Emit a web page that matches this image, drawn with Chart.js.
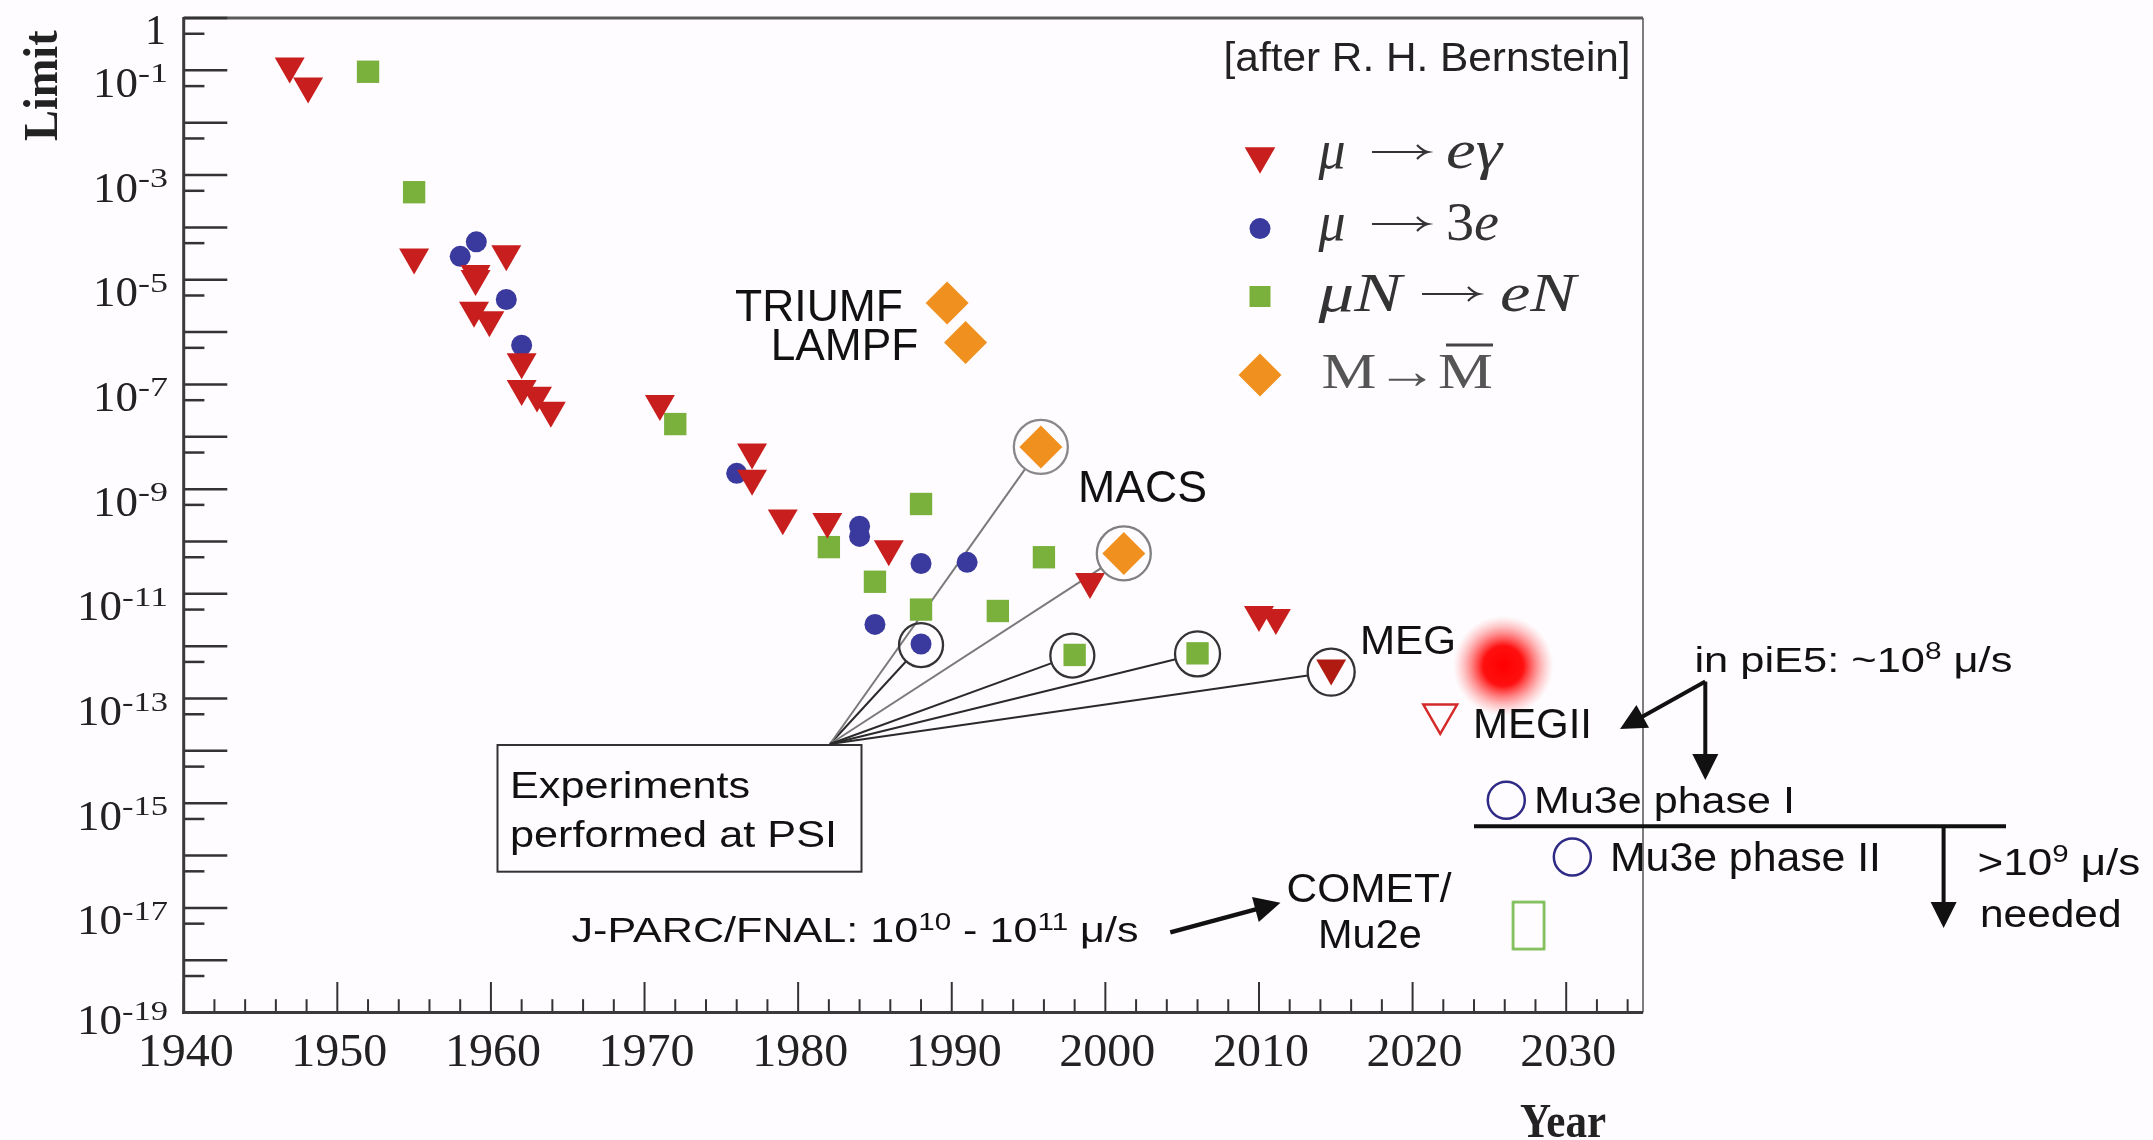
<!DOCTYPE html>
<html>
<head>
<meta charset="utf-8">
<script src="https://cdn.jsdelivr.net/npm/chart.js"></script>
<style>
html,body{margin:0;padding:0;background:#fefcfe;}
canvas{display:block;}
</style>
</head>
<body>
<canvas id="limitChart" width="2153" height="1140"></canvas>
<script>
// mu -> e gamma (red triangles)
const muEgYears = [1946.9, 1948.1, 1955.0, 1959.0, 1959.0, 1958.9, 1959.9, 1961.0, 1962.0, 1962.0, 1963.0, 1963.9, 1971.0, 1977.0, 1977.0, 1979.0, 1981.9, 1985.9, 1999.0, 2010.0, 2011.1];
const muEgLimits = [0.12, 0.05, 2.7e-5, 1.3e-5, 1.05e-5, 2.6e-6, 1.7e-6, 3.1e-5, 2.7e-7, 8.3e-8, 6.2e-8, 3.2e-8, 4.3e-8, 5.1e-9, 1.6e-9, 2.8e-10, 2.4e-10, 7.2e-11, 1.7e-11, 4.0e-12, 3.5e-12];
const megYears = [2014.7];
const megLimits = [3.8e-13];

// mu -> 3e (blue circles)
const mu3eYears = [1958.0, 1959.05, 1961.0, 1962.0, 1976.0, 1984.0, 1984.0, 1985.0, 1988.0, 1988.0, 1991.0];
const mu3eLimits = [2.8e-5, 5.3e-5, 4.2e-6, 5.6e-7, 2.0e-9, 1.95e-10, 1.25e-10, 2.6e-12, 3.8e-11, 1.1e-12, 4.0e-11];

// mu N -> e N (green squares)
const muNYears = [1952.0, 1955.0, 1972.0, 1982.0, 1985.0, 1988.0, 1988.0, 1993.0, 1996.0, 1998.0, 2006.0];
const muNLimits = [0.094, 4.7e-4, 1.75e-8, 7.8e-11, 1.7e-11, 5.2e-10, 5.0e-12, 4.7e-12, 5.0e-11, 6.8e-13, 7.3e-13];

// muonium -> antimuonium (orange diamonds)
const mmYears = [1989.7, 1990.9, 1995.8, 2001.2];
const mmLimits = [3.6e-6, 6.3e-7, 6.4e-9, 5.9e-11];

// experiments performed at PSI (circled)
const psiYears = [1988.0, 1995.8, 2001.2, 1997.85, 2006.0, 2014.7];
const psiLimits = [1.05e-12, 6.4e-9, 5.9e-11, 6.6e-13, 7.1e-13, 3.2e-13];

// future projects
const megIIYears = [2021.8];
const megIILimits = [5.0e-14];
const megIIHopeYears = [2025.9];
const megIIHopeLimits = [4.2e-13];
const mu3eFutureYears = [2026.1, 2030.4];
const mu3eFutureLimits = [1.14e-15, 9.4e-17];
const cometYears = [2027.55];
const cometLimits = [4.6e-18];

// axis labels
const xLabelYears = [1940, 1950, 1960, 1970, 1980, 1990, 2000, 2010, 2020, 2030];
const yLabelExponents = [-1, -3, -5, -7, -9, -11, -13, -15, -17, -19];

const SERIF = '"Liberation Serif", "DejaVu Serif", serif';
const SANS = '"Liberation Sans", Arial, sans-serif';
const NARROW = '"Liberation Sans Narrow", "Liberation Sans", sans-serif';

function pts(xs, ys) {
  return xs.map((x, i) => ({x: x, y: ys[i]}));
}

// parts: [text, size, dy, fontStyle]
function drawRun(ctx, x, y, parts, opt) {
  ctx.save();
  ctx.fillStyle = opt.color || '#111';
  ctx.textBaseline = 'alphabetic';
  ctx.textAlign = 'left';
  const fonts = parts.map(p => (p[3] || opt.style || 'normal') + ' ' + (opt.weight || 'normal') + ' ' + p[1] + 'px ' + opt.family);
  const widths = parts.map((p, i) => { ctx.font = fonts[i]; return ctx.measureText(p[0]).width; });
  const total = widths.reduce((a, b) => a + b, 0);
  const sx = opt.w ? opt.w / total : 1;
  let start = x;
  if (opt.align === 'right') start = x - total * sx;
  else if (opt.align === 'center') start = x - total * sx / 2;
  ctx.translate(start, y);
  ctx.scale(sx, 1);
  let cx = 0;
  parts.forEach((p, i) => {
    ctx.font = fonts[i];
    ctx.fillText(p[0], cx, p[2] || 0);
    cx += widths[i];
  });
  ctx.restore();
  return start + total * sx;
}

function arrow(ctx, x1, y1, x2, y2, lw, head) {
  const a = Math.atan2(y2 - y1, x2 - x1);
  const c = Math.cos(a), s = Math.sin(a);
  ctx.save();
  ctx.strokeStyle = '#111';
  ctx.fillStyle = '#111';
  ctx.lineWidth = lw;
  ctx.beginPath();
  ctx.moveTo(x1, y1);
  ctx.lineTo(x2 - c * head * 0.8, y2 - s * head * 0.8);
  ctx.stroke();
  ctx.beginPath();
  ctx.moveTo(x2, y2);
  ctx.lineTo(x2 - head * c + head * 0.5 * s, y2 - head * s - head * 0.5 * c);
  ctx.lineTo(x2 - head * c - head * 0.5 * s, y2 - head * s + head * 0.5 * c);
  ctx.closePath();
  ctx.fill();
  ctx.restore();
}

function line(ctx, x1, y1, x2, y2, lw, color) {
  ctx.save();
  ctx.strokeStyle = color;
  ctx.lineWidth = lw;
  ctx.beginPath();
  ctx.moveTo(x1, y1);
  ctx.lineTo(x2, y2);
  ctx.stroke();
  ctx.restore();
}

// thin math arrow for the legend
function mathArrow(ctx, x1, x2, y, color) {
  ctx.save();
  ctx.strokeStyle = color;
  ctx.lineWidth = 2.2;
  ctx.beginPath();
  ctx.moveTo(x1, y);
  ctx.lineTo(x2, y);
  ctx.moveTo(x2 - 10, y - 7);
  ctx.quadraticCurveTo(x2 - 4, y - 1, x2 + 1, y);
  ctx.quadraticCurveTo(x2 - 4, y + 1, x2 - 10, y + 7);
  ctx.stroke();
  ctx.restore();
}

// glow image for the MEG II goal
const glow = document.createElement('canvas');
glow.width = 100; glow.height = 100;
(function () {
  const g = glow.getContext('2d');
  const rg = g.createRadialGradient(50, 50, 0, 50, 50, 50);
  rg.addColorStop(0, 'rgba(255,0,0,1)');
  rg.addColorStop(0.4, 'rgba(255,8,8,0.97)');
  rg.addColorStop(0.7, 'rgba(255,50,50,0.45)');
  rg.addColorStop(1, 'rgba(255,120,120,0)');
  g.fillStyle = rg;
  g.fillRect(0, 0, 100, 100);
})();

// open rectangle for COMET / Mu2e
const openRect = document.createElement('canvas');
openRect.width = 36; openRect.height = 52;
(function () {
  const g = openRect.getContext('2d');
  g.strokeStyle = '#74b84a';
  g.lineWidth = 2.5;
  g.strokeRect(2.5, 2.5, 31, 47);
})();

const ringColors = ['#333333', '#888888', '#808080', '#333333', '#333333', '#333333'];
const ringRadius = [22, 27, 27, 22, 22.5, 23.5];
const APEX = {x: 830, y: 744};

const frame = {
  id: 'frame',
  beforeDatasetsDraw(chart) {
    const ctx = chart.ctx;
    const xs = chart.scales.x, ys = chart.scales.y;
    const a = chart.chartArea;

    // frame
    line(ctx, a.left, a.top, a.right, a.top, 3, '#5a5a5a');
    line(ctx, a.right, a.top, a.right, a.bottom, 1.5, '#555');

    // y ticks (inside)
    for (let e = 0; e >= -19; e--) {
      const py = ys.getPixelForValue(Math.pow(10, e));
      line(ctx, a.left, py, a.left + 43.6, py, 2.5, '#333');
      if (e <= -1) {
        const ps = ys.getPixelForValue(5 * Math.pow(10, e));
        line(ctx, a.left, ps, a.left + 20.7, ps, 2.5, '#333');
      }
    }
    // x ticks (inside)
    for (let yr = 1940; yr <= 2035; yr += 2) {
      const px = xs.getPixelForValue(yr);
      const len = yr % 10 === 0 ? 30.6 : 13.4;
      line(ctx, px, a.bottom, px, a.bottom - len, 2, '#333');
    }
    line(ctx, a.left, a.top - 1, a.left, a.bottom + 1.5, 3, '#3a3a3a');
    line(ctx, a.left - 1.5, a.bottom, a.right, a.bottom, 3, '#3a3a3a');

    // y labels
    yLabelExponents.forEach(e => {
      const py = ys.getPixelForValue(Math.pow(10, e));
      const dy = e === -19 ? -5 : 0;
      const supW = e <= -10 ? 46 : 30;
      drawRun(ctx, 168, py + 12 + dy, [[String(e), 28]], {family: SERIF, w: supW, align: 'right', color: '#222'});
      drawRun(ctx, 168 - supW, py + 26.5 + dy, [['10', 42]], {family: SERIF, w: 45, align: 'right', color: '#222'});
    });
    drawRun(ctx, 166, 44, [['1', 42]], {family: SERIF, align: 'right', color: '#222'});

    // x labels
    xLabelYears.forEach(yr => {
      drawRun(ctx, xs.getPixelForValue(yr) + 2, 1066, [[String(yr), 47]], {family: SERIF, w: 96, align: 'center', color: '#222'});
    });

    // axis titles
    ctx.save();
    ctx.translate(57.4, 141);
    ctx.rotate(-Math.PI / 2);
    drawRun(ctx, 0, 0, [['Limit', 48]], {family: SERIF, weight: 'bold', w: 110.6, color: '#222'});
    ctx.restore();
    drawRun(ctx, 1520, 1137, [['Year', 48]], {family: SERIF, weight: 'bold', w: 86, color: '#222'});

    // PSI box and lines
    ctx.save();
    ctx.strokeStyle = '#333';
    ctx.lineWidth = 2;
    ctx.strokeRect(497.5, 745, 364, 126.7);
    ctx.restore();
    psiYears.forEach((yr, i) => {
      const cx = xs.getPixelForValue(yr), cy = ys.getPixelForValue(psiLimits[i]);
      const d = Math.hypot(cx - APEX.x, cy - APEX.y);
      const r = ringRadius[i];
      line(ctx, APEX.x, APEX.y, cx - (cx - APEX.x) * r / d, cy - (cy - APEX.y) * r / d, 2, ringColors[i] === '#333333' ? '#2a2a2a' : '#7a7a7a');
    });
  },
  afterDatasetsDraw(chart) {
    const ctx = chart.ctx;

    drawRun(ctx, 1223.6, 71.4, [['[after R. H. Bernstein]', 40]], {family: NARROW, w: 407, color: '#222'});

    // legend markers
    ctx.save();
    ctx.fillStyle = '#c81e1e';
    ctx.beginPath();
    const tr = 17.7, tx = 1260, ty = 156;
    ctx.moveTo(tx, ty + tr);
    ctx.lineTo(tx - tr * 0.866, ty - tr / 2);
    ctx.lineTo(tx + tr * 0.866, ty - tr / 2);
    ctx.closePath();
    ctx.fill();
    ctx.fillStyle = '#3a3a9e';
    ctx.beginPath();
    ctx.arc(1260, 228.6, 10.5, 0, Math.PI * 2);
    ctx.fill();
    ctx.fillStyle = '#7ab03c';
    ctx.fillRect(1249.5, 286, 21, 21);
    ctx.fillStyle = '#f0901e';
    ctx.beginPath();
    ctx.moveTo(1260, 353.5); ctx.lineTo(1281.5, 375); ctx.lineTo(1260, 396.5); ctx.lineTo(1238.5, 375);
    ctx.closePath();
    ctx.fill();
    ctx.restore();

    // legend labels (math style)
    const lc = '#333';
    drawRun(ctx, 1318.5, 168, [['μ', 54, 0, 'italic']], {family: SERIF, color: lc});
    mathArrow(ctx, 1372, 1427, 152, lc);
    drawRun(ctx, 1446, 168, [['eγ', 54, 0, 'italic']], {family: SERIF, w: 56, color: lc});
    drawRun(ctx, 1318.5, 240, [['μ', 54, 0, 'italic']], {family: SERIF, color: lc});
    mathArrow(ctx, 1372, 1427, 224, lc);
    drawRun(ctx, 1446, 240, [['3', 54], ['e', 54, 0, 'italic']], {family: SERIF, w: 53, color: lc});
    drawRun(ctx, 1318.5, 310.7, [['μN', 54, 0, 'italic']], {family: SERIF, w: 83, color: lc});
    mathArrow(ctx, 1422, 1478, 294, lc);
    drawRun(ctx, 1500, 310.7, [['eN', 54, 0, 'italic']], {family: SERIF, w: 76, color: lc});
    drawRun(ctx, 1321.5, 387.5, [['M→M', 51]], {family: SERIF, w: 171.5, color: '#555'});
    line(ctx, 1446, 345, 1493, 345, 3, '#444');

    // experiment labels
    drawRun(ctx, 735, 320.7, [['TRIUMF', 45]], {family: SANS, w: 168});
    drawRun(ctx, 770.7, 360, [['LAMPF', 45]], {family: SANS, w: 147.6});
    drawRun(ctx, 1078, 501.7, [['MACS', 44]], {family: SANS, w: 129});
    drawRun(ctx, 1360, 654, [['MEG', 41]], {family: SANS, w: 96});
    drawRun(ctx, 1473, 738, [['MEGII', 42]], {family: SANS, w: 119});
    drawRun(ctx, 510, 798.3, [['Experiments', 37]], {family: SANS, w: 240});
    drawRun(ctx, 510, 846.7, [['performed at PSI', 37]], {family: SANS, w: 327});
    drawRun(ctx, 571.5, 941.7, [['J-PARC/FNAL: 10', 35], ['10', 24, -12], [' - 10', 35], ['11', 24, -12], [' μ/s', 35]], {family: SANS, w: 567});
    drawRun(ctx, 1286.6, 901.6, [['COMET/', 40]], {family: SANS, w: 165});
    drawRun(ctx, 1318, 948, [['Mu2e', 40]], {family: SANS, w: 103.7});
    drawRun(ctx, 1694.4, 672, [['in piE5: ~10', 35], ['8', 24, -13], [' μ/s', 35]], {family: SANS, w: 318});
    drawRun(ctx, 1534, 812.5, [['Mu3e phase I', 36]], {family: SANS, w: 261});
    drawRun(ctx, 1610, 871, [['Mu3e phase II', 40]], {family: SANS, w: 271});
    drawRun(ctx, 1977.4, 875, [['>10', 36], ['9', 24, -13], [' μ/s', 36]], {family: SANS, w: 163});
    drawRun(ctx, 1980, 927.3, [['needed', 38]], {family: SANS, w: 141.5});

    // arrows
    arrow(ctx, 1705.3, 681.6, 1620, 729, 4, 26);
    arrow(ctx, 1705.3, 681.6, 1705.3, 780, 4, 26);
    line(ctx, 1474, 826.3, 2006, 826.3, 4, '#111');
    arrow(ctx, 1943.6, 826.3, 1943.6, 928, 4, 26);
    arrow(ctx, 1170.3, 932.3, 1280.5, 902.8, 4.5, 26);
  }
};

function filled(label, xs, ys, style, color, radius, rotation) {
  return {
    label: label,
    data: pts(xs, ys),
    pointStyle: style,
    pointRadius: radius,
    pointRotation: rotation || 0,
    pointBackgroundColor: color,
    pointBorderWidth: 0,
    clip: false
  };
}

const chart = new Chart(document.getElementById('limitChart'), {
  type: 'scatter',
  data: {
    datasets: [
      {
        label: 'PSI',
        data: pts(psiYears, psiLimits),
        pointStyle: 'circle',
        pointRadius: ringRadius,
        pointBackgroundColor: 'rgba(0,0,0,0)',
        pointBorderColor: ringColors,
        pointBorderWidth: 2.3,
        clip: false
      },
      {
        label: 'MEG II',
        data: pts(megIIYears, megIILimits),
        pointStyle: 'triangle',
        pointRotation: 180,
        pointRadius: 19.5,
        pointBackgroundColor: 'rgba(0,0,0,0)',
        pointBorderColor: '#d42a2a',
        pointBorderWidth: 2.5,
        clip: false
      },
      {
        label: 'Mu3e',
        data: pts(mu3eFutureYears, mu3eFutureLimits),
        pointStyle: 'circle',
        pointRadius: 18.5,
        pointBackgroundColor: 'rgba(0,0,0,0)',
        pointBorderColor: '#2e2a86',
        pointBorderWidth: 2.5,
        clip: false
      },
      {
        label: 'COMET/Mu2e',
        data: pts(cometYears, cometLimits),
        pointStyle: openRect,
        clip: false
      },
      filled('MEG', megYears, megLimits, 'triangle', '#b01a10', 17.3, 180),
      filled('mu -> e gamma', muEgYears, muEgLimits, 'triangle', '#c81e1e', 17.3, 180),
      filled('mu -> 3e', mu3eYears, mu3eLimits, 'circle', '#3a3a9e', 10.5),
      filled('mu N -> e N', muNYears, muNLimits, 'rect', '#7ab03c', 15.8),
      filled('M -> anti-M', mmYears, mmLimits, 'rectRot', '#f0901e', 21.5),
      {
        label: 'MEG II goal',
        data: pts(megIIHopeYears, megIIHopeLimits),
        pointStyle: glow,
        clip: false
      }
    ]
  },
  options: {
    responsive: false,
    animation: false,
    devicePixelRatio: 1,
    events: [],
    layout: {autoPadding: false, padding: {left: 183.7, top: 18, right: 510, bottom: 127.4}},
    scales: {
      x: {type: 'linear', min: 1940, max: 2035, bounds: 'data', display: false},
      y: {type: 'logarithmic', min: 1e-19, max: 1, bounds: 'data', display: false}
    },
    plugins: {
      legend: {display: false},
      tooltip: {enabled: false}
    }
  },
  plugins: [frame]
});
</script>
</body>
</html>
